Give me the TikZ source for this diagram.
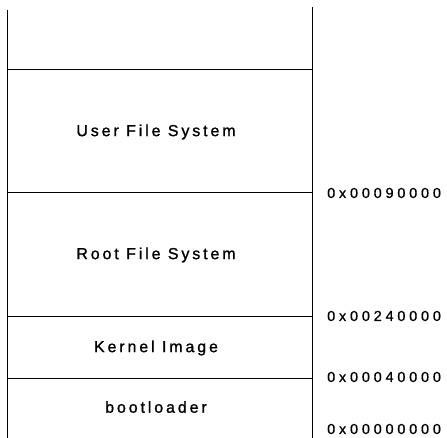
\documentclass[tikz,border=0pt]{standalone}
\usepackage{fontspec}
\setmainfont{Liberation Sans}
\newfontfamily\regionfont[LetterSpace=18,FakeBold=1.2]{Liberation Sans}
\newfontfamily\addrfont[LetterSpace=26,FakeBold=0.6]{Liberation Sans}
\begin{document}
\begin{tikzpicture}[x=1pt,y=-1pt,
  rule/.style={line width=1pt,black},
  region/.style={font=\regionfont\fontsize{16}{18}\selectfont,inner sep=0pt,anchor=center},
  addr/.style={font=\addrfont\fontsize{14.5}{16}\selectfont,inner sep=0pt,anchor=west}]
\useasboundingbox (0,0) rectangle (447,438);
% outer walls of the memory map
\coordinate (lt) at (7,10);
\coordinate (lb) at (7,438);
\coordinate (rt) at (312,7);
\coordinate (rb) at (312,438);
\draw[rule] (lt) -- (lb);
\draw[rule] (rt) -- (rb);
% partition boundaries
\foreach \n/\y in {a/70,b/193,c/316,d/378}{
  \coordinate (\n l) at (7,\y);
  \coordinate (\n r) at (312,\y);
  \draw[rule] (\n l) -- (\n r);
}
% region names
\node[region] (ufs) at (156,132) {User File System};
\node[region] (rfs) at (156,255) {Root File System};
\node[region] (kim) at (156,348) {Kernel Image};
\node[region] (bl)  at (156,407) {bootloader};
% addresses
\node[addr] (a1) at (327,193) {0x00090000};
\node[addr] (a2) at (327,316) {0x00240000};
\node[addr] (a3) at (327,377) {0x00040000};
\node[addr] (a4) at (327,429) {0x00000000};
\end{tikzpicture}
\end{document}
